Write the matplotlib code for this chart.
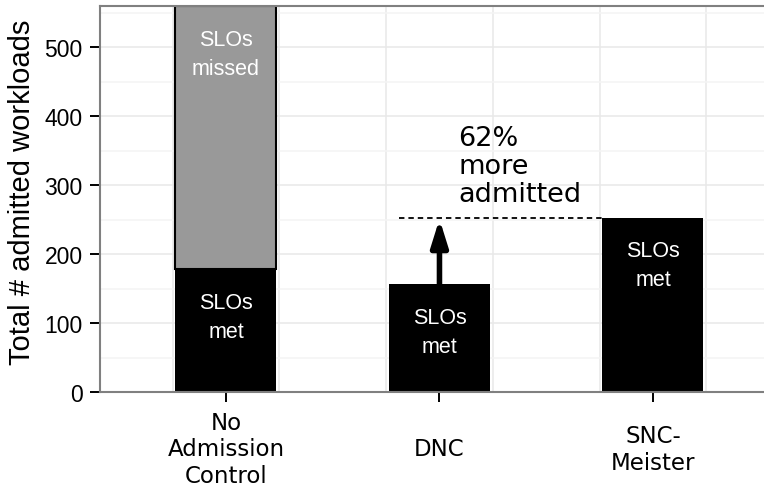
import matplotlib

matplotlib.use("Agg")

import matplotlib.pyplot as plt
import numpy as np

categories = ["No\nAdmission\nControl", "DNC", "SNC-\nMeister"]
slos_met = [178, 156, 253]
slos_missed = [382, 0, 0]
improvement_label = "62%\nmore\nadmitted"

SANS = ["Liberation Sans", "DejaVu Sans"]
VERA = ["DejaVu Sans"]

fig = plt.figure(figsize=(7.64, 4.89), dpi=100)
ax = fig.add_axes([100 / 764, 96 / 489, 664 / 764, 386 / 489])

x = np.arange(len(categories))
width = 0.473
met = np.array(slos_met, dtype=float)
missed = np.array(slos_missed, dtype=float)
totals = met + missed

# grid first so bars cover it
ax.set_axisbelow(True)
ax.set_yticks(np.arange(0, 501, 100))
ax.set_yticks(np.arange(50, 560, 100), minor=True)
ax.grid(axis="y", which="major", color="#e8e8e8", linewidth=1.1)
ax.grid(axis="y", which="minor", color="#f4f4f4", linewidth=1.1)
for gx in np.concatenate([x - 0.25, x + 0.25]):
    ax.axvline(gx, color="#e8e8e8", linewidth=1.1, zorder=0.5)

ax.bar(x, met, width=width, color="black", zorder=2)
has_missed = missed > 0
ax.bar(x[has_missed], missed[has_missed], width=width, bottom=met[has_missed],
       color="#999999", edgecolor="black", linewidth=1.5, zorder=2)

label_style = dict(ha="center", va="center", color="white", fontsize=15.5,
                   family=SANS, linespacing=1.5, zorder=3)
for xi, m, t, miss in zip(x, met, totals, missed):
    ax.text(xi, m - 69, "SLOs\nmet", **label_style)
    if miss > 0:
        ax.text(xi, t - 69, "SLOs\nmissed", **label_style)

# improvement of SNC-Meister over DNC
ax.plot([x[1] - 0.19, x[2] - width / 2], [met[2], met[2]], color="black",
        linestyle=(0, (3, 2.2)), linewidth=1.3, zorder=3)
ax.annotate("", xy=(x[1], met[2] - 2), xytext=(x[1], met[1]),
            arrowprops=dict(arrowstyle="-|>,head_length=1.6,head_width=0.5",
                            color="black", linewidth=4, shrinkA=0, shrinkB=0),
            zorder=3)
ax.text(x[1] + 0.087, 387, improvement_label, ha="left", va="top",
        fontsize=19.5, family=VERA, linespacing=1.1)

ax.set_xlim(-0.59, 2.52)
ax.set_ylim(0, 560)
ax.set_xticks(x, categories)
# ggplot-style: multi-line labels centred vertically in the label band
ax.tick_params(axis="x", length=7.5, width=1.4, color="black", pad=33.5,
               labelsize=16.5)
ax.tick_params(axis="y", which="major", length=7.5, width=1.4, color="black",
               pad=5, labelsize=16.5)
ax.tick_params(axis="y", which="minor", length=0)
for lab in ax.get_xticklabels():
    lab.set_family(VERA)
    lab.set_linespacing(1.2)
    lab.set_verticalalignment("center")
for lab in ax.get_yticklabels():
    lab.set_family(SANS)

for spine in ax.spines.values():
    spine.set_color("#808080")
    spine.set_linewidth(1.5)
ax.spines["right"].set_visible(False)

fig.text(22 / 764, 1 - 192 / 489, "Total # admitted workloads", rotation=90,
         ha="center", va="center", fontsize=21, family=SANS)

fig.savefig("out.png", dpi=100)
